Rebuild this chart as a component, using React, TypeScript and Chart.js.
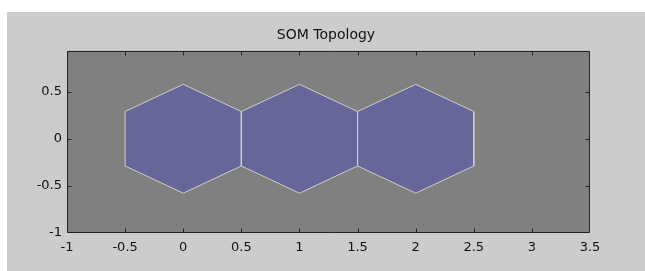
import React, { useEffect, useRef } from "react";
import { Chart, registerables } from "chart.js";

Chart.register(...registerables);

const chartTitle = "SOM Topology";
const neuronX = [0, 1, 2];
const neuronY = [0, 0, 0];
const hexDX = [-0.5, 0, 0.5, 0.5, 0, -0.5];
const hexDY = [0.2887, 0.5774, 0.2887, -0.2887, -0.5774, -0.2887];
const xTicks = [-1, -0.5, 0, 0.5, 1, 1.5, 2, 2.5, 3, 3.5];
const yTicks = [-1, -0.5, 0, 0.5];
const xMin = -1;
const xMax = 3.5;
const yMin = -1;
const yMax = 0.933;

const framePlugin = {
  id: "frame",
  beforeDatasetsDraw(chart: any) {
    const { ctx, chartArea } = chart;
    ctx.save();
    ctx.fillStyle = "#808080";
    ctx.fillRect(chartArea.left, chartArea.top, chartArea.right - chartArea.left, chartArea.bottom - chartArea.top);
    ctx.restore();
  },
  afterDatasetsDraw(chart: any) {
    const { ctx, chartArea } = chart;
    const { left, right, top, bottom } = chartArea;
    const xs = chart.scales.x;
    const ys = chart.scales.y;
    ctx.save();
    ctx.strokeStyle = "#222222";
    ctx.lineWidth = 1;
    ctx.beginPath();
    const L = Math.round(left) + 0.5;
    const R = Math.round(right) - 0.5;
    const T = Math.round(top) + 0.5;
    const B = Math.round(bottom) - 0.5;
    ctx.rect(L, T, R - L, B - T);
    const tl = 4;
    xTicks.forEach((v) => {
      if (v === xMin || v === xMax) return;
      const px = Math.round(xs.getPixelForValue(v)) + 0.5;
      ctx.moveTo(px, B);
      ctx.lineTo(px, B - tl);
      ctx.moveTo(px, T);
      ctx.lineTo(px, T + tl);
    });
    yTicks.forEach((v) => {
      if (v === yMin || v === yMax) return;
      const py = Math.round(ys.getPixelForValue(v)) + 0.5;
      ctx.moveTo(L, py);
      ctx.lineTo(L + tl, py);
      ctx.moveTo(R, py);
      ctx.lineTo(R - tl, py);
    });
    ctx.stroke();
    ctx.restore();
  },
};

export default function App() {
  const canvasRef = useRef<HTMLCanvasElement | null>(null);

  useEffect(() => {
    if (!canvasRef.current) return;
    const datasets = neuronX.map((cx, i) => {
      const pts = hexDX.map((dx, k) => ({ x: cx + dx, y: neuronY[i] + hexDY[k] }));
      pts.push({ ...pts[0] });
      return {
        label: "neuron " + (i + 1),
        data: pts,
        showLine: true,
        fill: "shape",
        backgroundColor: "#666699",
        borderColor: "#d0d0d0",
        borderWidth: 1,
        pointRadius: 0,
        tension: 0,
      };
    });
    const tickFont = { family: "'DejaVu Sans', sans-serif", size: 13 };
    const chart = new Chart(canvasRef.current, {
      type: "scatter",
      data: { datasets: datasets as any },
      plugins: [framePlugin],
      options: {
        animation: false,
        responsive: false,
        events: [],
        layout: { padding: 0 },
        plugins: {
          legend: { display: false },
          tooltip: { enabled: false },
          title: {
            display: true,
            text: chartTitle,
            color: "#111111",
            font: { family: "'DejaVu Sans', sans-serif", size: 14, weight: "normal" },
            padding: { top: 15, bottom: 7 },
          },
        },
        scales: {
          x: {
            type: "linear",
            min: xMin,
            max: xMax,
            afterBuildTicks: (s: any) => {
              s.ticks = xTicks.map((v) => ({ value: v }));
            },
            afterFit: (s: any) => {
              s.height = 38;
            },
            ticks: {
              callback: (v: any) => String(v),
              font: tickFont,
              color: "#111111",
              padding: 7,
              maxRotation: 0,
              autoSkip: false,
            },
            grid: { display: false, drawTicks: false, tickLength: 0 },
            border: { display: false },
          },
          y: {
            type: "linear",
            min: yMin,
            max: yMax,
            afterBuildTicks: (s: any) => {
              s.ticks = yTicks.map((v) => ({ value: v }));
            },
            afterFit: (s: any) => {
              s.width = 60;
            },
            ticks: {
              callback: (v: any) => String(v),
              font: tickFont,
              color: "#111111",
              padding: 5,
              autoSkip: false,
            },
            grid: { display: false, drawTicks: false, tickLength: 0 },
            border: { display: false },
          },
          yRight: {
            type: "linear",
            position: "right",
            min: yMin,
            max: yMax,
            afterFit: (s: any) => {
              s.width = 55;
            },
            ticks: { display: false },
            grid: { display: false, drawTicks: false, tickLength: 0 },
            border: { display: false },
          },
        },
      } as any,
    });
    return () => chart.destroy();
  }, []);

  return (
    <div
      style={{
        position: "absolute",
        left: 7,
        top: 12,
        width: 638,
        height: 259,
        background: "#cccccc",
      }}
    >
      <canvas ref={canvasRef} width={638} height={259} />
    </div>
  );
}
